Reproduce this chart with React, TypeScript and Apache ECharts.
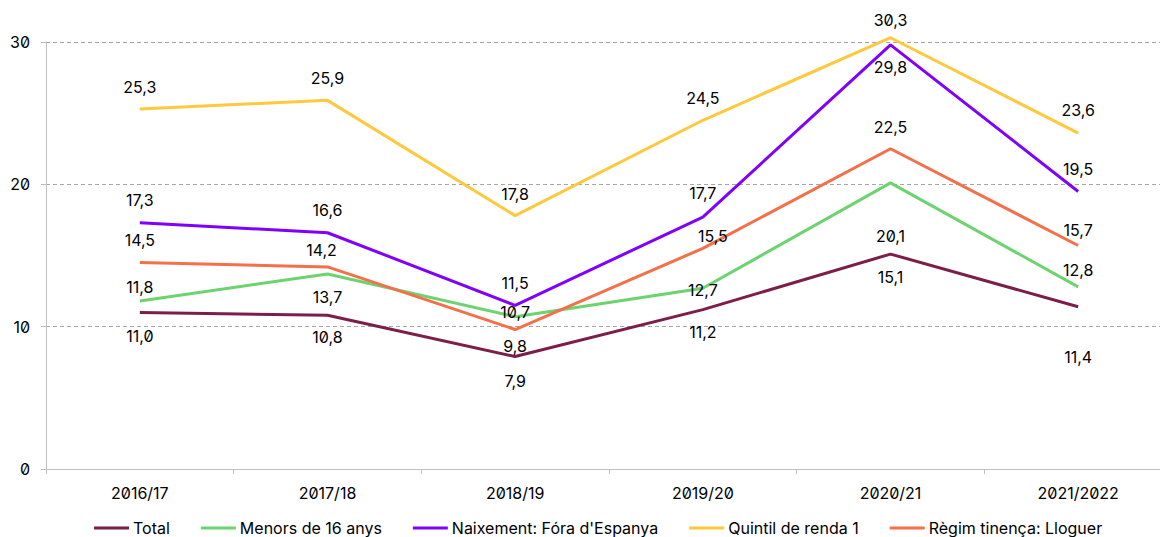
import React, { useEffect, useRef } from "react";
import * as echarts from "echarts";

const categories = ["2016/17", "2017/18", "2018/19", "2019/20", "2020/21", "2021/2022"];
const seriesNames = ["Total", "Menors de 16 anys", "Naixement: Fóra d'Espanya", "Quintil de renda 1", "Règim tinença: Lloguer"];
const totalValues = [11.0, 10.8, 7.9, 11.2, 15.1, 11.4];
const menorsValues = [11.8, 13.7, 10.7, 12.7, 20.1, 12.8];
const naixementValues = [17.3, 16.6, 11.5, 17.7, 29.8, 19.5];
const quintilValues = [25.3, 25.9, 17.8, 24.5, 30.3, 23.6];
const regimValues = [14.5, 14.2, 9.8, 15.5, 22.5, 15.7];
const yTicks = [0, 10, 20, 30];

const colors = ["#7B1E4A", "#6DD36F", "#8000FF", "#FFC83D", "#F4704A"];
// vertical label offsets (px) relative to each point
const labelDy = [
  [24, 22, 24, 22, 23, 50],
  [-14, 23, -5, 2, 53, -17],
  [-23, -23, -22, -24, 22, -22],
  [-22, -22, -22, -22, -18, -23],
  [-23, -17, 16, -12, -22, -16],
];
const labelDx = [
  [0, 0, 0, 0, 0, 0],
  [0, 0, 0, 0, 0, 0],
  [0, 0, 0, 0, 0, 0],
  [0, 0, 0, 0, 0, 0],
  [0, -6, 0, 10, 0, 0],
];

const FONT = "Inter, Roboto, sans-serif";

export default function App() {
  const ref = useRef<HTMLDivElement>(null);
  useEffect(() => {
    document.body.style.margin = "0";
    const chart = echarts.init(ref.current!, null, { renderer: "svg" });
    const all = [totalValues, menorsValues, naixementValues, quintilValues, regimValues];
    chart.setOption({
      animation: false,
      textStyle: { fontFamily: FONT },
      grid: { left: 46, right: 0, top: 42, bottom: 68, containLabel: false },
      legend: {
        bottom: -4,
        left: 89,
        itemWidth: 35,
        itemHeight: 3,
        itemGap: 31,
        icon: "rect",
        textStyle: { fontSize: 16, color: "#000", fontFamily: FONT, padding: [0, 0, 0, -1] },
        data: seriesNames,
      },
      xAxis: {
        type: "category",
        data: categories,
        boundaryGap: true,
        axisLine: { lineStyle: { color: "#BFBFBF", width: 1 } },
        axisTick: { show: true, length: 5, lineStyle: { color: "#BFBFBF" } },
        axisLabel: { color: "#000", fontSize: 16, margin: 16, fontFamily: FONT },
      },
      yAxis: {
        type: "value",
        min: yTicks[0],
        max: yTicks[yTicks.length - 1],
        interval: 10,
        axisLine: { show: true, lineStyle: { color: "#BFBFBF", width: 1 } },
        axisTick: { show: true, length: 5, lineStyle: { color: "#BFBFBF" } },
        axisLabel: { color: "#000", fontSize: 16, margin: 16, fontFamily: FONT },
        splitLine: { show: true, lineStyle: { color: "#A6A6A6", type: [4, 3], width: 1 } },
      },
      series: all.map((vals, si) => ({
        name: seriesNames[si],
        type: "line",
        clip: false,
        data: vals.map((v, i) => ({
          value: v,
          label: { offset: [labelDx[si][i], labelDy[si][i]] },
        })),
        color: colors[si],
        lineStyle: { width: 3, color: colors[si] },
        symbol: "circle",
        symbolSize: 0,
        showSymbol: true,
        z: 2 + si,
        label: {
          show: true,
          position: "inside",
          color: "#000",
          fontSize: 16,
          fontFamily: FONT,
          formatter: (p: any) => Number(p.value).toFixed(1).replace(".", ","),
        },
      })),
    });
    return () => chart.dispose();
  }, []);
  return (
    <div style={{ width: 1160, height: 537, overflow: "hidden", position: "relative" }}>
      <div
        ref={ref}
        style={{ width: 1172, height: 537, fontFeatureSettings: '"zero" 1' }}
      />
    </div>
  );
}
